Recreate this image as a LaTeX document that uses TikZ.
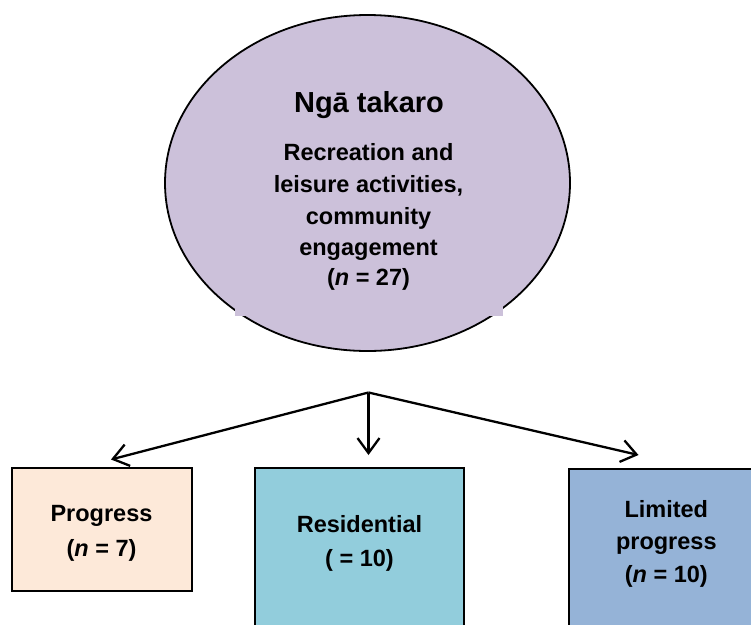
\documentclass[tikz,border=0pt]{standalone}
\usepackage{fontspec}
\setmainfont{Liberation Sans}
\usetikzlibrary{shapes.geometric,arrows.meta}
\definecolor{lavender}{HTML}{CCC1DA}
\definecolor{peach}{HTML}{FDE9D9}
\definecolor{aqua}{HTML}{92CDDC}
\definecolor{steel}{HTML}{95B3D7}
\begin{document}
\begin{tikzpicture}[x=1pt,y=-1pt,
  outline/.style={draw=black,line width=1.8pt},
  txt/.style={font=\bfseries\fontsize{23.5}{28}\selectfont,anchor=base,inner sep=0pt},
  headtxt/.style={font=\bfseries\fontsize{29}{34}\selectfont,anchor=base,inner sep=0pt},
  catbox/.style={outline,rectangle,inner sep=0pt},
  link/.style={line width=2.3pt,-{Straight Barb[length=15pt,width=22pt]}}]
\useasboundingbox (0,0) rectangle (751,624);
\clip (0,0) rectangle (751,624);

% theme ellipse
\node[outline,ellipse,fill=lavender,inner sep=0pt,
      minimum width=405pt,minimum height=336pt] (theme) at (367.5,183) {};
\fill[lavender] (235,300) rectangle (503,315.7);

\node[headtxt] (t0) at (369,112.7) {Ngā takaro};
\node[txt] (t1) at (368.5,160.7) {Recreation and};
\node[txt] (t2) at (368.5,192.5) {leisure activities,};
\node[txt] (t3) at (368.5,224) {community};
\node[txt] (t4) at (368.5,255) {engagement};
\node[txt] (t5) at (368.5,285.5) {(\textit{n} = 27)};

% category boxes
\node[catbox,fill=peach,minimum width=179.7pt,minimum height=122.7pt] (prog) at (101.85,529.65) {};
\node[catbox,fill=aqua,minimum width=209pt,minimum height=171.7pt] (resi) at (359.5,554.15) {};
\node[catbox,fill=steel,minimum width=193.7pt,minimum height=170.7pt] (lim) at (666.15,554.65) {};

\node[txt] (p1) at (101.5,521.7) {Progress};
\node[txt] (p2) at (101.5,556.7) {(\textit{n} = 7)};
\node[txt] (r1) at (359.5,532.7) {Residential};
\node[txt] (r2) at (359.5,566.7) {( = 10)};
\node[txt] (l1) at (666.3,517.3) {Limited};
\node[txt] (l2) at (666.3,549.8) {progress};
\node[txt] (l3) at (666.3,582.3) {(\textit{n} = 10)};

% branching arrows
\coordinate (apex) at (368.5,392.5);
\coordinate (tipL) at (111,459.5);
\coordinate (tipM) at (368.5,455);
\coordinate (tipR) at (638.5,455);
\draw[link] (apex) -- (tipL);
\draw[link] (apex) -- (tipM);
\draw[link] (apex) -- (tipR);
\end{tikzpicture}
\end{document}
